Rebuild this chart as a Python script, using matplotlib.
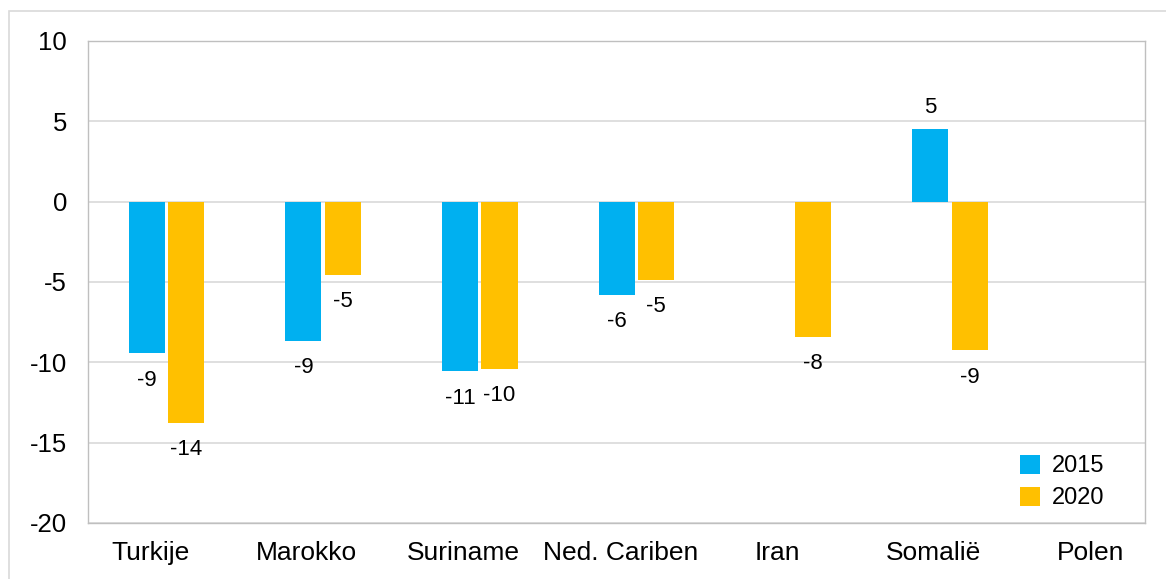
import numpy as np
import matplotlib
matplotlib.use("Agg")
import matplotlib.pyplot as plt
from matplotlib.patches import Rectangle

landen = ["Turkije", "Marokko", "Suriname", "Ned. Cariben", "Iran", "Somalië", "Polen"]
waarden_2015 = [-9.45, -8.65, -10.55, -5.8, np.nan, 4.52, np.nan]
waarden_2020 = [-13.75, -4.55, -10.4, -4.85, -8.4, -9.25, np.nan]
jaren = ["2015", "2020"]

KLEUR_2015 = "#00B0F0"
KLEUR_2020 = "#FFC000"

plt.rcParams["font.family"] = ["Liberation Sans", "DejaVu Sans"]
plt.rcParams["axes.unicode_minus"] = False

fig = plt.figure(figsize=(11.66, 5.79), dpi=100)
ax = fig.add_axes([88 / 1166, 1 - 523 / 579, (1145 - 88) / 1166, (523 - 41) / 579])

x = np.arange(len(landen))
breedte = 0.23
pos_2015 = x - 0.022
pos_2020 = x + 0.23

ax.bar(pos_2015, waarden_2015, breedte, color=KLEUR_2015, label=jaren[0], zorder=3)
ax.bar(pos_2020, waarden_2020, breedte, color=KLEUR_2020, label=jaren[1], zorder=3)

# labels boven/onder de staven
for posities, reeks in [(pos_2015, waarden_2015), (pos_2020, waarden_2020)]:
    for xp, v in zip(posities, reeks):
        if np.isnan(v):
            continue
        offset = 15.5 if v >= 0 else -19.5
        ax.annotate(f"{v:.0f}", (xp, v), xytext=(0, offset), textcoords="offset points",
                    ha="center", va="center", fontsize=16, color="black", zorder=4)

ax.set_xlim(-0.396, -0.396 + 6.745)
ax.set_ylim(-20, 10)
ax.set_yticks(np.arange(-20, 11, 5))
ax.set_xticks(x)
ax.set_xticklabels(landen)
ax.tick_params(axis="both", length=0)
ax.tick_params(axis="y", pad=15, labelsize=18.5)
ax.tick_params(axis="x", pad=13, labelsize=19)

ax.grid(axis="y", color="#d9d9d9", linewidth=1.2, zorder=0)
for kant in ["left", "right", "top", "bottom"]:
    ax.spines[kant].set_color("#bfbfbf")
    ax.spines[kant].set_linewidth(1)

ax.legend(loc="lower right", bbox_to_anchor=(0.982, -0.016), frameon=False, fontsize=17,
          handlelength=0.85, handleheight=0.85, handletextpad=0.5, labelspacing=0.4)

fig.add_artist(Rectangle((9 / 1166, -0.1), 1.2, 1 - 11 / 579 + 0.1, transform=fig.transFigure,
                         fill=False, edgecolor="#d9d9d9", linewidth=1.2))

fig.savefig("out.png", dpi=100)
